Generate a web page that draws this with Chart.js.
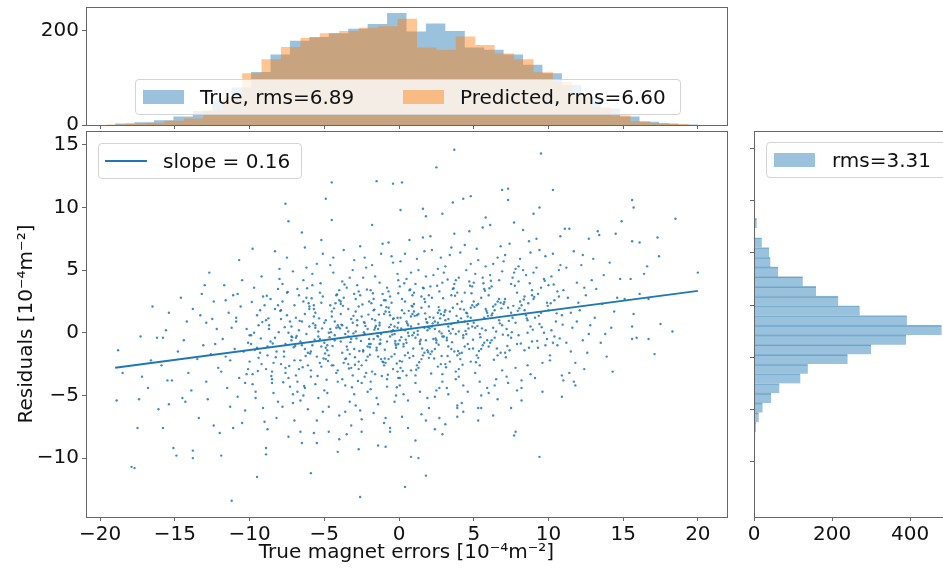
<!DOCTYPE html>
<html>
<head>
<meta charset="utf-8">
<script src="https://cdn.jsdelivr.net/npm/chart.js@4.4.1/dist/chart.umd.min.js"></script>
<style>
  html, body { margin: 0; padding: 0; background: #fff; }
  body { position: relative; width: 943px; height: 569px; overflow: hidden; font-family: 'DejaVu Sans', sans-serif; }
  canvas { position: absolute; }
  .legend { position: absolute; box-sizing: border-box; height: 36px; background: rgba(255,255,255,0.8); border: 1px solid #d4d4d4; border-radius: 4px; font-size: 20px; color: #111; white-space: nowrap; z-index: 5; }
  .legend span { position: absolute; }
  .legend .label { top: 0; line-height: 34px; }
  .legend .patch { top: 10px; width: 41px; height: 14px; }
</style>
</head>
<body>
<canvas id="topHist" width="745" height="140" style="left:0px;top:0px"></canvas>
<canvas id="mainPlot" width="745" height="452" style="left:0px;top:117px"></canvas>
<canvas id="sideHist" width="225" height="452" style="left:735px;top:117px"></canvas>

<div class="legend" style="left:135px;top:79px;width:546px">
  <span class="patch" style="left:7px;background:rgba(31,119,180,0.45)"></span>
  <span class="label" style="left:64px">True, rms=6.89</span>
  <span class="patch" style="left:267px;background:rgba(255,127,14,0.45)"></span>
  <span class="label" style="left:324px">Predicted, rms=6.60</span>
</div>
<div class="legend" style="left:98px;top:143px;width:204px">
  <span style="left:6px;top:16px;width:42px;height:2px;background:#1f77b4"></span>
  <span class="label" style="left:64px">slope = 0.16</span>
</div>
<div class="legend" style="left:766px;top:142px;width:180px">
  <span class="patch" style="left:7px;background:rgba(31,119,180,0.45)"></span>
  <span class="label" style="left:65px">rms=3.31</span>
</div>

<script>
// tick values
const xTicks = [-20, -15, -10, -5, 0, 5, 10, 15, 20];
const yTicks = [-10, -5, 0, 5, 10, 15];
const topCountTicks = [0, 200];
const sideCountTicks = [0, 200, 400];

// top histogram: true vs predicted magnet errors (30 bins each)
const trueEdges = [-19.0, -17.7, -16.4, -15.1, -13.8, -12.5, -11.2, -9.9, -8.6, -7.3, -6.0, -4.7, -3.4, -2.1, -0.8, 0.5, 1.8, 3.1, 4.4, 5.7, 7.0, 8.3, 9.6, 10.9, 12.2, 13.5, 14.8, 16.1, 17.4, 18.7, 20.0];
const trueCounts = [3, 6, 10, 18, 30, 50, 80, 113, 150, 179, 187, 195, 205, 215, 238, 199, 216, 200, 165, 160, 150, 128, 110, 85, 60, 35, 18, 7, 3, 1];
const predEdges = [-19.6, -18.3, -17.0, -15.7, -14.4, -13.1, -11.8, -10.5, -9.2, -7.9, -6.6, -5.3, -4.0, -2.7, -1.4, -0.1, 1.2, 2.5, 3.8, 5.1, 6.4, 7.7, 9.0, 10.3, 11.6, 12.9, 14.2, 15.5, 16.8, 18.1, 19.4];
const predCounts = [1, 3, 5, 9, 14, 32, 60, 110, 140, 166, 185, 195, 200, 207, 210, 226, 165, 160, 188, 170, 152, 140, 112, 92, 62, 38, 20, 8, 4, 2];

// side histogram of residuals
const residualBinCenters = [-12.9, -11.97, -11.04, -10.11, -9.18, -8.25, -7.32, -6.39, -5.46, -4.53, -3.6, -2.67, -1.74, -0.81, 0.12, 1.05, 1.98, 2.91, 3.84, 4.77, 5.7, 6.63, 7.56, 8.49, 9.42, 10.35, 11.28, 12.21, 13.14, 14.07];
const residualCounts = [1, 1, 2, 3, 5, 12, 22, 44, 65, 119, 138, 240, 300, 390, 481, 392, 271, 216, 159, 125, 62, 42, 39, 20, 3, 7, 2, 3, 0, 1];

// fitted line
const fitX = [-19.0, 20.0];
const fitY = [-2.79, 3.35];

// scatter: [true error, residual]
const residualPoints = [
[-18.9,-5.4],[-18.8,-1.4],[-18.5,-3.2],
[-17.9,-10.7],[-17.7,-10.8],[-17.5,-7.6],[-17.4,-5.3],[-17.3,-0.3],[-17.2,-3.5],
[-16.8,-4.4],[-16.2,-0.4],[-16.5,2.1],[-16.6,-2.2],[-16.1,-6.1],
[-15.8,-7.6],[-15.8,-0.4],[-15.6,0.2],[-15.5,-3.8],[-15.2,-3.8],[-15.4,-5.7],[-15.4,1.6],[-15.9,-2.6],
[-15.1,-9.2],[-14.9,-9.8],[-14.5,-5.2],[-14.3,-5.5],[-14.8,-1.5],[-14.2,0.9],[-14.6,2.8],[-14.1,-3.2],[-14.4,-0.6],
[-13.8,-9.4],[-13.8,-10.0],[-13.8,1.9],[-13.3,1.4],[-13.2,3.1],[-13.0,3.8],[-13.5,-2.1],[-13.9,-4.6],[-13.4,-6.8],[-13.1,-1.0],
[-12.7,4.8],[-12.4,2.5],[-12.4,-7.4],[-12.0,-8.0],[-12.9,-3.9],[-12.6,-1.7],[-12.2,0.3],[-12.8,-5.3],[-12.1,-2.8],[-12.5,1.1],[-12.3,-0.9],[-12.9,0.8],
[-11.9,-9.8],[-11.7,3.8],[-11.2,-13.4],[-11.1,-7.6],[-11.5,-4.4],[-11.3,-2.2],[-11.8,-0.5],[-11.4,1.6],[-11.6,2.6],[-11.0,-1.3],[-11.2,0.4],[-11.9,-3.1],[-11.3,-5.9],[-11.6,-1.9],[-11.1,3.0],
[-10.3,-6.2],[-10.7,-3.6],[-10.1,-0.8],[-10.9,1.2],[-10.5,4.2],[-10.0,-2.3],[-10.8,-5.1],[-10.2,0.3],[-10.6,2.1],[-10.4,-1.5],[-10.3,-4.0],[-10.7,5.8],[-10.1,-2.9],[-10.9,0.9],[-10.5,-7.2],[-10.0,-0.2],[-10.8,3.1],[-10.2,-3.3],
[-9.8,6.7],[-9.5,-11.5],[-9.6,-4.7],[-9.2,-2.5],[-9.9,-0.9],[-9.4,0.6],[-9.0,2.2],[-9.7,3.6],[-9.3,-1.6],[-9.8,-3.3],[-9.1,-6.0],[-9.5,1.4],[-9.6,-5.2],[-9.2,4.5],[-9.9,-0.2],[-9.4,-2.0],[-9.0,-7.1],[-9.7,0.0],[-9.3,1.8],[-9.8,-4.1],[-9.1,2.9],[-9.5,-1.2],
[-8.9,-9.2],[-8.9,-9.7],[-8.3,6.5],[-8.1,-5.5],[-8.5,-3.1],[-8.8,-1.8],[-8.3,-0.4],[-8.9,1.0],[-8.6,2.7],[-8.0,4.3],[-8.4,-2.4],[-8.7,0.3],[-8.2,-6.8],[-8.1,3.5],[-8.5,-4.0],[-8.8,-1.1],[-8.3,1.9],[-8.9,-2.9],[-8.6,-0.7],[-8.0,5.1],[-8.4,-4.8],[-8.7,0.6],[-8.2,-1.5],[-8.1,2.2],[-8.5,-3.7],[-8.8,-7.7],
[-7.6,10.3],[-7.4,8.9],[-7.8,-5.9],[-7.4,-3.6],[-7.0,-2.2],[-7.6,-0.9],[-7.2,0.5],[-7.9,1.8],[-7.5,3.2],[-7.1,4.9],[-7.7,-1.5],[-7.3,-4.3],[-7.8,2.5],[-7.4,0.0],[-7.0,-7.0],[-7.6,-2.8],[-7.2,-0.3],[-7.9,1.1],[-7.5,6.0],[-7.1,-4.9],[-7.7,-1.9],[-7.3,0.9],[-7.8,3.9],[-7.4,-8.3],[-7.0,2.2],[-7.6,-3.2],[-7.2,-0.6],[-7.9,-2.5],[-7.5,1.4],[-7.1,-5.6],
[-6.5,8.0],[-6.3,6.8],[-6.6,-7.9],[-6.3,-4.4],[-6.7,-2.9],[-6.1,-1.6],[-6.9,-0.4],[-6.5,0.9],[-6.0,2.1],[-6.8,3.5],[-6.2,5.2],[-6.6,-2.2],[-6.4,-5.0],[-6.3,1.5],[-6.7,0.2],[-6.1,-6.1],[-6.9,-3.4],[-6.5,-1.0],[-6.0,0.5],[-6.8,-3.9],[-6.2,2.8],[-6.6,-0.7],[-6.4,4.2],[-6.3,-1.3],[-6.7,3.0],[-6.1,-2.6],[-6.9,1.2],[-6.5,-8.8],[-6.0,1.9],[-6.8,-4.7],[-6.2,-0.1],[-6.6,-5.4],[-6.4,2.5],
[-5.9,-11.2],[-5.5,-8.8],[-5.7,-8.0],[-5.6,-4.1],[-5.2,-2.7],[-5.9,-1.5],[-5.4,-0.3],[-5.0,0.8],[-5.7,1.9],[-5.3,3.2],[-5.8,4.7],[-5.1,6.3],[-5.5,-1.9],[-5.6,0.4],[-5.2,2.4],[-5.9,-3.5],[-5.4,-5.2],[-5.0,-0.8],[-5.7,1.3],[-5.3,-2.4],[-5.8,3.8],[-5.1,-6.3],[-5.5,5.5],[-5.6,1.6],[-5.2,-1.1],[-5.9,-3.0],[-5.4,0.1],[-5.0,-4.6],[-5.7,2.2],[-5.3,-0.5],[-5.8,-1.0],[-5.1,2.9],[-5.5,-7.0],[-5.6,0.6],[-5.2,7.4],
[-4.5,12.0],[-4.9,10.7],[-4.5,9.0],[-4.7,-7.9],[-4.0,-8.5],[-4.1,-9.5],[-4.1,-3.9],[-4.5,-2.6],[-4.8,-1.4],[-4.3,-0.2],[-4.9,1.0],[-4.6,2.2],[-4.0,3.4],[-4.4,4.8],[-4.7,-1.8],[-4.2,-3.2],[-4.1,0.6],[-4.5,1.7],[-4.8,-4.8],[-4.3,-0.6],[-4.9,-2.1],[-4.6,0.3],[-4.0,2.6],[-4.4,6.0],[-4.7,-5.9],[-4.2,3.0],[-4.1,-3.0],[-4.5,1.3],[-4.8,-1.0],[-4.3,0.9],[-4.9,-1.2],[-4.6,5.4],[-4.0,-6.6],[-4.4,-2.6],[-4.7,0.0],[-4.2,0.4],
[-3.8,-3.7],[-3.4,-2.5],[-3.0,-1.3],[-3.6,-0.1],[-3.2,1.1],[-3.9,2.3],[-3.5,3.6],[-3.1,5.0],[-3.7,6.6],[-3.3,-1.7],[-3.8,0.6],[-3.4,1.9],[-3.0,-4.9],[-3.6,-6.3],[-3.2,-2.8],[-3.9,-0.7],[-3.5,0.4],[-3.1,-3.4],[-3.7,2.8],[-3.3,-5.5],[-3.8,4.1],[-3.4,-0.3],[-3.0,3.1],[-3.6,-2.1],[-3.2,-7.4],[-3.9,1.5],[-3.5,-1.1],[-3.1,0.8],[-3.7,-2.4],[-3.3,4.4],[-3.8,-1.6],[-3.4,0.1],[-3.0,5.8],[-3.6,-4.2],[-3.2,-0.5],[-3.9,2.5],[-3.5,-8.1],
[-2.6,-13.1],[-2.7,-9.3],[-2.5,-7.9],[-2.5,-6.9],[-2.3,-3.5],[-2.7,-2.3],[-2.1,-1.1],[-2.9,0.1],[-2.5,1.3],[-2.0,2.5],[-2.8,3.8],[-2.2,5.2],[-2.6,6.9],[-2.4,-1.5],[-2.3,0.8],[-2.7,2.1],[-2.1,-4.7],[-2.9,-5.8],[-2.5,-2.6],[-2.0,-0.5],[-2.8,0.6],[-2.2,-3.2],[-2.6,3.0],[-2.4,4.4],[-2.3,-0.1],[-2.7,3.3],[-2.1,-1.9],[-2.9,1.7],[-2.5,-4.0],[-2.0,-0.9],[-2.8,1.0],[-2.2,-2.2],[-2.6,-6.2],[-2.4,-1.4],[-2.3,6.0],[-2.7,-2.9],[-2.1,0.3],[-2.9,2.7],
[-1.5,12.1],[-1.4,-9.0],[-1.8,8.6],[-1.6,-3.3],[-1.2,-2.1],[-1.9,-0.9],[-1.4,0.3],[-1.0,1.5],[-1.7,2.7],[-1.3,4.0],[-1.8,5.4],[-1.1,7.1],[-1.5,-1.4],[-1.6,1.0],[-1.2,2.2],[-1.9,-4.5],[-1.4,-5.7],[-1.0,-2.6],[-1.7,-0.5],[-1.3,0.6],[-1.8,-3.1],[-1.1,3.1],[-1.5,-5.2],[-1.6,4.5],[-1.2,-0.1],[-1.9,3.4],[-1.4,-1.9],[-1.0,-7.2],[-1.7,1.8],[-1.3,-0.9],[-1.8,1.1],[-1.1,-2.3],[-1.5,-1.2],[-1.6,0.4],[-1.2,6.3],[-1.9,-3.9],[-1.4,-0.3],[-1.0,2.6],[-1.7,-6.4],[-1.3,0.8],
[-0.9,-9.1],[-0.6,-7.9],[-0.4,11.9],[-0.1,-3.1],[-0.5,-1.9],[-0.8,-0.7],[-0.3,0.5],[-0.9,1.7],[-0.6,2.9],[-0.05,4.2],[-0.4,5.6],[-0.7,7.2],[-0.2,-1.2],[-0.1,1.2],[-0.5,2.4],[-0.8,-4.3],[-0.3,-5.5],[-0.9,-2.4],[-0.6,-0.3],[-0.05,0.8],[-0.4,-2.9],[-0.7,3.3],[-0.2,-5.0],[-0.1,4.7],[-0.5,0.1],[-0.8,3.6],[-0.3,-1.7],[-0.9,-6.8],[-0.6,1.4],[-0.05,-0.9],[-0.4,1.1],[-0.7,-2.1],[-0.2,-1.0],[-0.1,0.4],[-0.5,6.1],[-0.8,-3.7],[-0.3,-0.1],[-0.9,2.6],[-0.6,-7.6],[-0.05,-3.6],[-0.4,0.2],[-0.7,2.0],
[0.2,12.0],[0.4,-12.3],[0.1,9.8],[0.6,-7.6],[0.8,-9.9],[0.8,-3.0],[0.4,-1.8],[0.05,-0.6],[0.6,0.6],[0.2,1.8],[0.9,3.0],[0.5,4.3],[0.1,5.7],[0.7,7.4],[0.3,-1.1],[0.8,1.3],[0.4,2.5],[0.05,-4.2],[0.6,-5.4],[0.2,-2.3],[0.9,-0.2],[0.5,0.9],[0.1,-2.8],[0.7,3.4],[0.3,-4.9],[0.8,4.8],[0.4,0.2],[0.05,3.7],[0.6,-1.6],[0.2,-6.7],[0.9,1.5],[0.5,-0.8],[0.1,1.2],[0.7,-2.0],[0.3,-0.9],[0.8,0.5],[0.4,6.3],[0.05,-3.6],[0.6,0.0],[0.2,2.7],[0.9,2.1],[0.5,-3.4],
[1.8,9.3],[1.6,9.9],[1.8,-11.4],[1.3,-10.0],[1.1,-8.6],[1.8,-7.0],[1.3,-2.8],[1.7,-1.6],[1.1,-0.4],[1.9,0.8],[1.5,2.0],[1.0,3.2],[1.8,4.5],[1.2,5.9],[1.6,7.6],[1.4,-0.9],[1.3,1.5],[1.7,2.7],[1.1,-4.0],[1.9,-5.2],[1.5,-2.1],[1.0,0.0],[1.8,1.1],[1.2,-2.6],[1.6,3.6],[1.4,-4.7],[1.3,5.0],[1.7,0.4],[1.1,3.9],[1.9,-1.4],[1.5,-6.5],[1.0,1.7],[1.8,-0.6],[1.2,1.4],[1.6,-1.8],[1.4,-0.7],[1.3,0.7],[1.7,6.5],[1.1,-3.4],[1.9,0.2],[1.5,2.9],[1.0,2.3],
[2.5,13.2],[2.4,-7.7],[2.9,-8.1],[2.7,-6.8],[2.9,9.5],[2.6,-2.7],[2.2,-1.5],[2.9,-0.3],[2.4,0.9],[2.0,2.1],[2.7,3.3],[2.3,4.6],[2.8,6.0],[2.1,7.7],[2.5,-0.8],[2.6,1.6],[2.2,2.8],[2.9,-3.9],[2.4,-5.1],[2.0,-2.0],[2.7,0.1],[2.3,1.2],[2.8,-2.5],[2.1,3.7],[2.5,-4.6],[2.6,5.1],[2.2,0.5],[2.9,4.0],[2.4,-1.3],[2.0,-6.0],[2.7,1.8],[2.3,-0.5],[2.8,1.5],[2.1,-1.7],[2.5,-0.6],[2.6,0.8],[2.2,6.6],[2.9,-3.3],[2.4,0.3],[2.0,3.0],[2.7,-4.4],
[3.7,14.6],[3.6,10.4],[3.9,-6.0],[3.9,-6.7],[3.1,-7.3],[3.1,-2.5],[3.5,-1.3],[3.8,-0.1],[3.3,1.1],[3.9,2.3],[3.6,3.5],[3.0,4.8],[3.4,6.2],[3.7,7.9],[3.2,-0.6],[3.1,1.8],[3.5,3.0],[3.8,-3.7],[3.3,-4.9],[3.9,-1.8],[3.6,0.3],[3.0,1.4],[3.4,-2.3],[3.7,3.9],[3.2,-4.4],[3.1,5.3],[3.5,0.7],[3.8,4.2],[3.3,-1.1],[3.9,-5.8],[3.6,2.0],[3.0,-0.3],[3.4,1.7],[3.7,-1.5],[3.2,-0.4],[3.1,1.0],[3.5,6.8],[3.8,-3.1],[3.3,0.5],[3.9,3.2],
[4.3,10.7],[4.8,10.9],[4.3,-6.3],[4.8,-2.3],[4.4,-1.1],[4.0,0.1],[4.6,1.3],[4.2,2.5],[4.9,3.7],[4.5,5.0],[4.1,6.4],[4.7,8.1],[4.3,-0.4],[4.8,2.0],[4.4,3.2],[4.0,-3.5],[4.6,-4.7],[4.2,-1.6],[4.9,0.5],[4.5,1.6],[4.1,-2.1],[4.7,4.1],[4.3,-4.2],[4.8,5.5],[4.4,0.9],[4.0,4.4],[4.6,-0.9],[4.2,-5.6],[4.9,2.2],[4.5,-0.1],[4.1,1.9],[4.7,-1.3],[4.3,-0.2],[4.8,1.2],[4.4,7.0],[4.0,-2.9],[4.6,0.7],
[5.8,9.2],[5.3,-7.0],[5.5,-6.0],[5.3,-6.0],[5.3,-2.0],[5.7,-0.8],[5.1,0.4],[5.9,1.6],[5.5,2.8],[5.0,4.0],[5.8,5.3],[5.2,6.7],[5.6,8.4],[5.4,-0.1],[5.3,2.3],[5.7,3.5],[5.1,-3.2],[5.9,-4.4],[5.5,-1.3],[5.0,0.8],[5.8,1.9],[5.2,-1.8],[5.6,4.4],[5.4,-3.9],[5.3,5.8],[5.7,1.2],[5.1,4.7],[5.9,-0.6],[5.5,-5.0],[5.0,2.5],[5.8,0.2],[5.2,2.2],[5.6,-1.0],[5.4,-2.6],
[6.3,-6.6],[6.9,11.4],[6.6,-5.3],[6.6,-1.8],[6.2,-0.6],[6.9,0.6],[6.4,1.8],[6.0,3.0],[6.7,4.2],[6.3,5.5],[6.8,6.9],[6.1,8.6],[6.5,0.1],[6.6,2.5],[6.2,3.7],[6.9,-3.0],[6.4,-4.2],[6.0,-1.1],[6.7,1.0],[6.3,2.1],[6.8,-1.6],[6.1,4.6],[6.5,-3.7],[6.6,6.0],[6.2,1.4],[6.9,4.9],[6.4,-0.4],[6.0,-4.8],[6.7,2.7],[6.3,0.4],[6.8,2.4],[6.1,-0.8],
[7.3,11.5],[7.3,10.6],[7.7,-8.2],[7.8,-7.9],[7.5,-6.0],[7.9,-4.6],[7.1,-1.6],[7.5,-0.4],[7.8,0.8],[7.3,2.0],[7.9,3.2],[7.6,4.4],[7.0,5.7],[7.4,7.1],[7.7,8.8],[7.2,0.3],[7.1,2.7],[7.5,3.9],[7.8,-2.8],[7.3,-4.0],[7.9,-0.9],[7.6,1.2],[7.0,2.3],[7.4,-1.4],[7.7,4.8],[7.2,-3.5],[7.1,6.2],[7.5,1.6],[7.8,5.1],[7.3,-0.2],
[8.2,-5.4],[8.8,-3.3],[8.4,-1.4],[8.0,-0.2],[8.6,1.0],[8.2,2.2],[8.9,3.4],[8.5,4.6],[8.1,5.9],[8.7,7.3],[8.3,8.2],[8.8,0.5],[8.4,2.9],[8.0,4.1],[8.6,-2.6],[8.2,-3.8],[8.9,-0.7],[8.5,1.4],[8.1,2.5],[8.7,-1.2],[8.3,5.0],[8.8,6.4],[8.4,1.8],[8.0,5.3],[8.6,0.0],[8.2,-4.4],[8.9,3.0],
[9.5,14.3],[9.4,10.0],[9.0,9.5],[9.4,-9.9],[9.3,-1.2],[9.7,0.0],[9.1,1.2],[9.9,2.4],[9.5,3.6],[9.0,4.8],[9.8,6.1],[9.2,7.5],[9.6,-2.4],[9.4,0.7],[9.3,3.1],[9.7,4.3],[9.1,-3.6],[9.9,-0.5],[9.5,1.6],[9.0,2.7],[9.8,-1.0],[9.2,5.2],[9.6,-4.7],[9.4,6.6],
[10.3,11.4],[10.9,-5.1],[10.6,-1.0],[10.2,0.2],[10.9,1.4],[10.4,2.6],[10.0,3.8],[10.7,5.0],[10.3,6.3],[10.8,7.7],[10.1,-2.2],[10.5,0.9],[10.6,3.3],[10.2,4.5],[10.9,-3.4],[10.4,-0.3],[10.0,1.8],[10.7,2.9],[10.3,-0.8],[10.8,5.4],[10.1,-1.8],
[11.1,8.3],[11.4,8.3],[11.0,-3.8],[11.7,-3.9],[11.8,-4.2],[11.4,-3.2],[11.8,-2.4],[11.2,-0.8],[11.6,0.4],[11.5,1.6],[11.3,2.8],[11.9,4.0],[11.2,5.2],[11.7,6.5],[11.0,3.4],[11.5,-1.5],[11.9,0.9],
[12.7,7.5],[12.4,-2.9],[12.3,-0.6],[12.8,0.6],[12.1,1.8],[12.5,3.0],[12.9,4.2],[12.2,5.4],[12.6,-1.6],[12.0,2.4],[12.4,3.6],[12.7,-0.1],[12.3,6.2],
[13.3,8.1],[13.4,7.8],[13.9,-1.9],[13.8,-0.1],[13.1,1.2],[13.6,2.3],[13.2,3.5],[13.7,4.6],[13.5,-0.8],[13.0,5.9],
[14.5,7.9],[14.9,8.9],[14.3,-3.1],[14.2,0.4],[14.6,2.8],[14.4,1.7],[14.8,4.3],[14.1,5.6],
[15.6,10.6],[15.7,10.0],[15.6,7.3],[15.5,4.3],[15.1,2.7],[15.7,1.5],[15.9,-0.4],[15.6,-0.5],[15.6,0.5],
[16.1,7.2],[16.4,4.7],[16.6,5.3],[16.1,3.1],[16.7,2.7],[16.7,-0.5],
[17.3,7.6],[17.1,-1.7],[17.4,6.1],[17.5,0.7],
[18.5,9.1],[18.3,0.1],
[20.0,4.8],
// dense core
[-9.65,-1.35],[-9.15,0.85],[-9.45,-3.05],[-9.85,2.45],[-9.25,-0.45],
[-8.25,-1.95],[-8.75,1.15],[-8.55,-3.45],[-8.05,0.05],[-8.85,2.95],[-8.45,-0.85],
[-7.05,-1.15],[-7.65,0.45],[-7.35,-2.65],[-7.95,1.75],[-7.15,-0.35],[-7.45,3.25],[-7.75,-3.95],
[-6.85,-0.25],[-6.25,-1.85],[-6.65,0.95],[-6.05,2.35],[-6.45,-2.75],[-6.95,-1.05],[-6.35,-4.25],[-6.15,3.55],
[-5.15,0.35],[-5.65,-0.55],[-5.95,-1.65],[-5.35,1.15],[-5.85,2.75],[-5.05,-2.05],[-5.45,-3.45],[-5.75,0.75],[-5.25,3.95],
[-4.65,-0.35],[-4.05,0.45],[-4.95,-1.65],[-4.35,1.95],[-4.75,-2.25],[-4.15,3.05],[-4.55,0.05],[-4.85,-3.75],[-4.25,2.35],[-4.45,-1.05],
[-3.25,-0.75],[-3.95,0.35],[-3.55,-2.05],[-3.05,1.35],[-3.75,2.15],[-3.35,-2.85],[-3.85,0.65],[-3.15,-4.35],[-3.65,3.85],[-3.45,-1.35],[-3.05,-0.05],
[-2.85,-0.45],[-2.25,0.55],[-2.65,-1.45],[-2.05,1.45],[-2.45,2.25],[-2.95,-2.55],[-2.35,0.85],[-2.75,-3.85],[-2.15,3.45],[-2.55,-0.65],[-2.95,-1.95],[-2.35,0.05],
[-1.25,-0.55],[-1.65,0.25],[-1.95,-1.15],[-1.35,1.45],[-1.85,2.35],[-1.05,-2.35],[-1.55,0.55],[-1.15,-3.45],[-1.75,3.15],[-1.45,-0.25],[-1.95,-1.75],[-1.25,-0.85],[-1.65,1.85],
[-0.25,-0.65],[-0.65,0.45],[-0.95,-1.35],[-0.35,1.15],[-0.85,2.05],[-0.15,-2.45],[-0.55,0.65],[-0.75,-3.35],[-0.05,3.15],[-0.45,-0.15],[-0.95,-2.05],[-0.25,-0.85],[-0.65,1.65],[-0.15,-4.35],
[0.65,-0.25],[0.15,0.35],[0.95,-1.25],[0.35,1.55],[0.85,2.15],[0.05,-2.25],[0.55,0.75],[0.25,-3.05],[0.75,3.45],[0.45,-0.55],[0.95,-1.85],[0.15,-0.35],[0.65,1.75],[0.35,3.95],
[1.25,-0.15],[1.95,0.45],[1.55,-1.25],[1.05,1.35],[1.75,2.45],[1.35,-2.35],[1.85,0.85],[1.15,-2.95],[1.65,3.55],[1.45,-0.55],[1.95,-1.55],[1.25,0.15],[1.75,1.55],
[2.85,-0.05],[2.25,0.75],[2.65,-0.95],[2.05,1.25],[2.95,2.75],[2.35,-2.05],[2.75,1.15],[2.15,-3.25],[2.55,3.75],[2.45,-0.45],[2.85,-1.85],[2.05,0.35],[2.65,2.05],
[3.35,0.15],[3.95,0.95],[3.55,-0.75],[3.05,1.65],[3.75,2.95],[3.25,-1.85],[3.85,1.35],[3.15,-2.75],[3.65,3.55],[3.45,-0.05],[3.95,-1.45],[3.25,4.25],
[4.65,0.35],[4.15,1.15],[4.95,-0.55],[4.35,1.85],[4.85,3.15],[4.05,-1.65],[4.55,1.55],[4.25,-2.55],[4.75,3.75],[4.45,0.15],[4.95,-1.25],
[5.25,0.55],[5.95,1.35],[5.45,-0.35],[5.05,2.05],[5.75,3.35],[5.35,-1.45],[5.85,1.75],[5.15,-2.35],[5.65,3.95],[5.55,0.35],
[6.75,0.75],[6.25,1.55],[6.95,-0.15],[6.45,2.25],[6.05,3.55],[6.55,-1.25],[6.85,1.95],[6.35,-2.15],[6.15,4.15],
[7.35,0.95],[7.95,1.75],[7.55,0.05],[7.05,2.45],[7.75,3.75],[7.25,-1.05],[7.65,2.15],[7.15,-1.95],
[8.55,1.15],[8.05,1.95],[8.95,0.25],[8.35,2.65],[8.75,3.95],[8.15,-0.85],[8.65,2.35],
[9.35,1.35],[9.95,2.15],[9.55,0.45],[9.05,2.85],[9.75,4.15],[9.25,-0.65],
[10.55,1.55],[10.15,2.35],[10.95,0.65],[10.35,3.85],[10.75,-0.45]
];

Chart.defaults.font.family = "'DejaVu Sans', sans-serif";
Chart.defaults.font.size = 20;
Chart.defaults.color = '#111';

// draws the four spines around the plot area
const frame = {
  id: 'frame',
  afterDraw(chart) {
    const { ctx, chartArea: a } = chart;
    ctx.save();
    ctx.strokeStyle = '#666';
    ctx.lineWidth = 1;
    ctx.strokeRect(Math.round(a.left) + 0.5, Math.round(a.top) + 0.5, Math.round(a.right - a.left), Math.round(a.bottom - a.top));
    ctx.restore();
  }
};

const fixWidth = w => s => { s.width = w; s.paddingTop = 0; s.paddingBottom = 0; };
const fixHeight = h => s => { s.height = h; s.paddingLeft = 0; s.paddingRight = 0; };
const setTicks = vals => s => { s.ticks = vals.map(v => ({ value: v })); };
const minus = v => String(v).replace('-', '\u2212');
const tickGrid = { drawOnChartArea: false, drawTicks: true, tickLength: 4, tickColor: '#666' };
const noBorder = { display: false };
const common = {
  responsive: false,
  animation: false,
  events: [],
  plugins: { legend: { display: false }, tooltip: { enabled: false } }
};

function stepPoints(edges, counts) {
  return edges.map((e, i) => ({ x: e, y: counts[Math.min(i, counts.length - 1)] }));
}

// top histogram
new Chart(document.getElementById('topHist'), {
  type: 'line',
  data: {
    datasets: [
      { label: 'True, rms=6.89', data: stepPoints(trueEdges, trueCounts), stepped: 'before', fill: 'origin',
        backgroundColor: 'rgba(31,119,180,0.45)', borderColor: 'rgba(0,0,0,0)', borderWidth: 0, pointRadius: 0, order: 1 },
      { label: 'Predicted, rms=6.60', data: stepPoints(predEdges, predCounts), stepped: 'before', fill: 'origin',
        backgroundColor: 'rgba(255,127,14,0.45)', borderColor: 'rgba(0,0,0,0)', borderWidth: 0, pointRadius: 0, order: 0 }
    ]
  },
  options: {
    ...common,
    layout: { padding: { top: 7, right: 18, left: 0, bottom: 0 } },
    scales: {
      x: { type: 'linear', min: -20.95, max: 21.95, afterBuildTicks: setTicks(xTicks), afterFit: fixHeight(15),
           ticks: { display: false }, grid: tickGrid, border: noBorder },
      y: { type: 'linear', min: 0, max: 251, afterBuildTicks: setTicks(topCountTicks), afterFit: fixWidth(86),
           ticks: { padding: 3 }, grid: tickGrid, border: noBorder }
    }
  },
  plugins: [frame]
});

// main scatter with fitted line
new Chart(document.getElementById('mainPlot'), {
  type: 'scatter',
  data: {
    datasets: [
      { type: 'line', label: 'slope = 0.16', data: fitX.map((x, i) => ({ x: x, y: fitY[i] })),
        borderColor: '#1f77b4', borderWidth: 1.8, pointRadius: 0, fill: false },
      { label: 'residuals', data: residualPoints.map(p => ({ x: p[0], y: p[1] })),
        pointRadius: 1.2, pointBackgroundColor: 'rgba(31,119,180,0.85)', pointBorderWidth: 0 }
    ]
  },
  options: {
    ...common,
    layout: { padding: { top: 14, right: 18, left: 0, bottom: 0 } },
    scales: {
      x: { type: 'linear', min: -20.95, max: 21.95, afterBuildTicks: setTicks(xTicks), afterFit: fixHeight(52),
           ticks: { callback: minus, padding: 2 }, grid: tickGrid, border: noBorder,
           title: { display: true, text: 'True magnet errors [10\u207B\u2074m\u207B\u00B2]', padding: { top: 0, bottom: 4 } } },
      y: { type: 'linear', min: -14.7, max: 16.1, afterBuildTicks: setTicks(yTicks), afterFit: fixWidth(86),
           ticks: { callback: minus, padding: 3 }, grid: tickGrid, border: noBorder,
           title: { display: true, text: 'Residuals [10\u207B\u2074m\u207B\u00B2]', padding: { top: 15, bottom: 0 } } }
    }
  },
  plugins: [frame]
});

// residual histogram on the right
new Chart(document.getElementById('sideHist'), {
  type: 'bar',
  data: {
    datasets: [{
      label: 'rms=3.31',
      data: residualBinCenters.map((y, i) => ({ x: residualCounts[i], y: y })),
      backgroundColor: 'rgba(31,119,180,0.45)',
      borderColor: 'rgba(31,119,180,0.5)',
      borderWidth: { top: 1, right: 0, bottom: 0, left: 0 },
      barPercentage: 1,
      categoryPercentage: 1
    }]
  },
  options: {
    ...common,
    indexAxis: 'y',
    layout: { padding: { top: 14, right: 9, left: 0, bottom: 0 } },
    scales: {
      x: { type: 'linear', min: 0, max: 505, afterBuildTicks: setTicks(sideCountTicks), afterFit: fixHeight(52),
           ticks: { padding: 2 }, grid: tickGrid, border: noBorder },
      y: { type: 'linear', min: -14.7, max: 16.1, afterBuildTicks: setTicks(yTicks), afterFit: fixWidth(19),
           ticks: { display: false }, grid: tickGrid, border: noBorder }
    }
  },
  plugins: [frame]
});
</script>
</body>
</html>
